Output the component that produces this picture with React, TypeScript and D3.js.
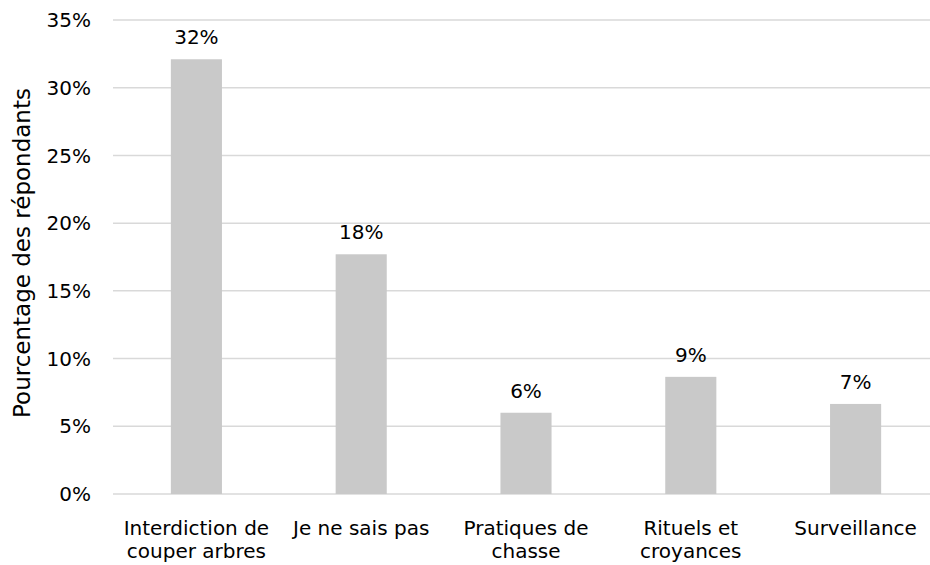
import React from "react";
import * as d3 from "d3";

const categories: string[][] = [
  ["Interdiction de", "couper arbres"],
  ["Je ne sais pas"],
  ["Pratiques de", "chasse"],
  ["Rituels et", "croyances"],
  ["Surveillance"],
];
const values: number[] = [32.1, 17.7, 6.0, 8.65, 6.65];
const valueLabels: string[] = ["32%", "18%", "6%", "9%", "7%"];
const yTicks: number[] = [0, 5, 10, 15, 20, 25, 30, 35];
const yTitle = "Pourcentage des répondants";

const W = 930;
const H = 565;
const FONT = "'DejaVu Sans', Verdana, sans-serif";

export default function App() {
  const keys = categories.map((c) => c.join(" "));
  const x = d3.scaleBand<string>().domain(keys).range([114, 938]).padding(0);
  const y = d3.scaleLinear().domain([0, 35]).range([494, 20]);
  const bw = x.bandwidth() * 0.31;
  const fs = 20;

  return (
    <svg
      width={W}
      height={H}
      style={{ position: "absolute", left: 0, top: 0, background: "#fff" }}
    >
      {yTicks.map((t) => (
        <g key={t}>
          <line x1={113} x2={938} y1={y(t)} y2={y(t)} stroke="#d9d9d9" strokeWidth={1.5} />
          <text
            x={91}
            y={y(t)}
            dy="0.36em"
            textAnchor="end"
            fontFamily={FONT}
            fontSize={fs}
            fill="#000"
          >
            {t}%
          </text>
        </g>
      ))}
      {values.map((v, i) => {
        const cx = (x(keys[i]) as number) + x.bandwidth() / 2;
        return (
          <g key={i}>
            <rect x={cx - bw / 2} y={y(v)} width={bw} height={y(0) - y(v)} fill="#c9c9c9" />
            <text
              x={cx}
              y={y(v) - 15}
              textAnchor="middle"
              fontFamily={FONT}
              fontSize={fs}
              fill="#000"
            >
              {valueLabels[i]}
            </text>
            {categories[i].map((line, j) => (
              <text
                key={j}
                x={cx}
                y={535 + j * 23}
                textAnchor="middle"
                fontFamily={FONT}
                fontSize={fs}
                fill="#000"
              >
                {line}
              </text>
            ))}
          </g>
        );
      })}
      <text
        transform={`translate(30, 253) rotate(-90)`}
        textAnchor="middle"
        fontFamily={FONT}
        fontSize={23}
        fill="#000"
      >
        {yTitle}
      </text>
    </svg>
  );
}
